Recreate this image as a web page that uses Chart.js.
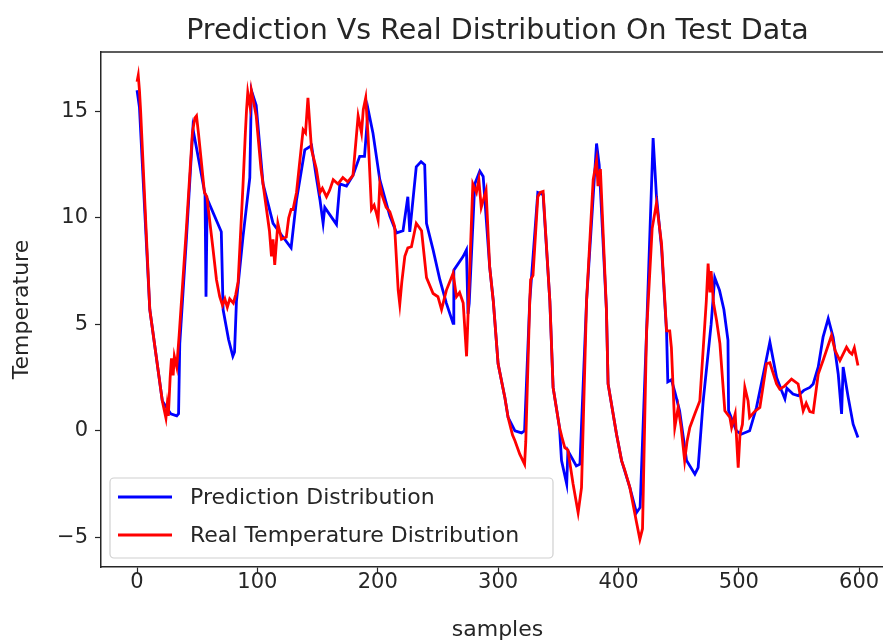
<!DOCTYPE html>
<html>
<head>
<meta charset="utf-8">
<script src="https://cdn.jsdelivr.net/npm/chart.js@4/dist/chart.umd.min.js"></script>
<style>
  html, body { margin: 0; padding: 0; background: #fff; overflow: hidden; }
  canvas { display: block; }
</style>
</head>
<body>
<canvas id="predChart" width="895" height="643"></canvas>
<script>
// test-set samples: model prediction vs measured temperature
const predSamples = [0, 2, 10.6, 21, 28, 33, 34.5, 35.5, 41, 46.4, 52, 56.5, 57.3, 58.3, 70, 71.5, 76, 79.6, 81, 82.6,
  88, 93.7, 95, 99, 104.7, 113, 120, 128, 132.5, 139.4, 145, 149, 152, 154.6, 156, 165.7, 168.5, 174, 179.4, 185,
  189, 192, 196, 201.7, 210, 215.6, 221, 225, 226.6, 232, 236, 239, 240.5, 246, 251.6, 257, 262.6, 263.2, 271, 273.7,
  275, 276, 280.6, 284.8, 287.6, 293, 296, 300, 305.6, 308.3, 314, 319.5, 322, 326.3, 333, 337.4, 343, 345.7, 351, 352.7,
  357, 358, 365, 368, 373.5, 381.8, 384, 390, 391.4, 398.4, 402.6, 409.5, 415, 418, 423.3, 428.8, 431.6, 435.8, 440, 441,
  444, 447, 450.8, 456.6, 463.5, 466.2, 470.4, 477, 480, 484, 487.6, 491, 491.5, 498, 502, 509, 514.7, 521.6,
  525.8, 531.4, 535.5, 538.3, 540, 545, 549.3, 554, 559, 561.8, 566, 570, 574.3, 578.4, 582.6, 585.4, 586.7, 590.9, 595, 599];
const predTemps = [16.0, 15.2, 5.7, 1.4, 0.8, 0.7, 0.8, 4.1, 9.0, 14.2, 12.5, 11.1, 6.3, 10.9, 9.35, 5.7, 4.3, 3.5, 3.7, 6.1,
  9.1, 11.9, 16.0, 15.3, 11.6, 9.75, 9.2, 8.6, 10.85, 13.2, 13.4, 11.9, 10.85, 9.75, 10.5, 9.7, 11.6, 11.5, 12.0, 12.9,
  12.9, 15.1, 14.0, 11.8, 10.1, 9.3, 9.4, 11.0, 9.35, 12.4, 12.65, 12.5, 9.75, 8.5, 7.1, 6.0, 5.05, 7.55, 8.2, 8.5,
  5.5, 6.0, 11.6, 12.2, 11.95, 7.7, 6.1, 3.15, 1.57, 0.63, 0.0, -0.1, 0.0, 6.1, 11.2, 11.1, 6.1, 2.04, 0.16, -1.4,
  -2.5, -0.94, -1.65, -1.57, 6.1, 13.5, 12.5, 5.7, 2.2, -0.16, -1.4, -2.67, -3.85, -3.6, 4.56, 13.76, 11.0, 8.6, 4.6, 2.3,
  2.4, 1.8, 0.94, -1.4, -2.04, -1.73, 1.4, 5.0, 7.2, 6.6, 5.7, 4.25, 0.94, 0.0, -0.16, 0.0, 1.1, 3.0,
  4.17, 2.5, 1.89, 1.5, 2.0, 1.73, 1.65, 1.9, 2.04, 2.2, 3.0, 4.4, 5.27, 4.4, 2.67, 0.79, 3.0, 1.57, 0.31, -0.31];

const realSamples = [0, 1, 2, 3, 10.6, 21, 24, 25, 26, 27.5, 28.6, 30, 31, 33, 35, 41, 46, 48, 49.4, 51,
  56, 58, 63, 66, 68.7, 71, 73, 75, 77, 80, 82, 84, 88, 90, 91, 92, 94, 95, 99, 103,
  110, 111.7, 113, 114.4, 117, 120, 124, 126, 128, 129.6, 132.5, 138, 140, 142, 145, 149, 152, 154, 157.4, 160,
  163, 167, 171, 175, 179.4, 183.7, 186.5, 188, 190, 192, 194.8, 197, 199, 200.3, 201.7, 204, 207, 210, 214, 217,
  218.3, 220, 222.5, 225, 228, 232, 236.4, 240.5, 246, 250, 253, 257, 262.6, 265.4, 268, 271, 273.8, 279, 282, 284,
  286, 290, 293, 296, 300, 305.6, 308.3, 312, 314, 318, 322, 323, 326.3, 327, 329, 333, 335, 337.4, 343, 345.7,
  351, 353, 355.4, 358, 362.3, 366.5, 369.3, 373.5, 379, 381.8, 383, 385, 390, 391.4, 398.4, 402.6, 405, 409.5, 415, 417.8,
  420, 423.3, 428, 431.6, 435.8, 440, 442.6, 444, 446.8, 449.6, 452, 455, 457, 459.3, 463.5, 467.6, 473, 474.5, 476, 477,
  479, 481.5, 484.3, 488.4, 492.6, 494, 497, 499.5, 501, 503, 505, 507.7, 509, 513, 517.5, 523, 525.8, 531.4, 534, 538,
  543.8, 549.3, 553.5, 556, 559, 561.8, 566, 570, 577, 580, 584, 589.5, 592, 594, 596, 599];
const realTemps = [16.4, 16.7, 16.0, 15.0, 5.7, 1.4, 0.6, 1.2, 0.7, 2.5, 3.4, 2.6, 3.5, 3.0, 4.5, 9.5, 14.0, 14.7, 14.8, 14.0,
  11.2, 11.0, 8.6, 7.1, 6.3, 5.9, 6.2, 5.8, 6.2, 6.0, 6.4, 7.0, 11.5, 14.0, 15.1, 15.9, 15.2, 16.0, 14.8, 12.3,
  9.4, 8.2, 9.0, 7.8, 9.75, 9.0, 9.1, 10.0, 10.4, 10.4, 11.2, 14.15, 14.0, 15.65, 13.2, 12.3, 11.2, 11.4, 11.0, 11.3,
  11.8, 11.6, 11.9, 11.7, 12.0, 14.8, 14.0, 15.1, 15.65, 13.8, 10.4, 10.6, 10.2, 9.9, 11.6, 11.0, 10.5, 10.3, 9.6, 6.6,
  5.95, 7.0, 8.2, 8.6, 8.65, 9.75, 9.4, 7.2, 6.45, 6.3, 5.7, 6.6, 7.4, 6.3, 6.5, 6.0, 3.5, 11.6, 11.2, 11.8,
  10.5, 11.3, 7.7, 6.1, 3.15, 1.57, 0.63, -0.2, -0.47, -1.1, -1.57, -0.5, 6.1, 7.1, 7.3, 11.0, 11.2, 11.25, 6.1, 2.04,
  0.16, -0.3, -0.79, -0.9, -2.5, -3.85, -2.67, 6.1, 11.8, 12.7, 11.5, 12.3, 5.7, 2.2, -0.16, -1.4, -1.8, -2.67, -4.3, -5.1,
  -4.6, 4.56, 9.5, 10.7, 8.8, 4.7, 4.7, 3.9, 0.16, 1.1, 0.2, -1.4, -0.5, 0.16, 0.8, 1.4, 6.1, 7.86, 6.5, 7.5,
  6.0, 5.2, 4.1, 0.94, 0.63, 0.16, 0.8, -1.73, -0.16, 0.3, 2.04, 1.4, 0.63, 0.9, 1.1, 3.15, 3.2, 2.2, 1.96, 2.1,
  2.43, 2.2, 0.94, 1.3, 0.9, 0.86, 2.67, 3.3, 4.48, 3.77, 3.3, 3.93, 3.7, 3.6, 3.9, 3.07];

const xTicks = [0, 100, 200, 300, 400, 500, 600];
const yTicks = [-5, 0, 5, 10, 15];

const FONT = "'DejaVu Sans', sans-serif";
const INK = '#262626';

function toPoints(xs, ys) {
  return xs.map((x, i) => ({ x: x, y: ys[i] }));
}

// negative numbers get a real minus sign
function fmtTick(v) {
  return v < 0 ? '\u2212' + Math.abs(v) : String(v);
}

// legend box drawn inside the plot, lower left
const innerLegend = {
  id: 'innerLegend',
  afterDraw(chart) {
    const ctx = chart.ctx;
    const area = chart.chartArea;
    const x = area.left + 9, y = area.bottom - 89, w = 443, h = 80;
    ctx.save();
    ctx.beginPath();
    ctx.roundRect(x, y, w, h, 4);
    ctx.fillStyle = 'rgba(255,255,255,0.8)';
    ctx.fill();
    ctx.strokeStyle = '#d0d0d0';
    ctx.lineWidth = 1.2;
    ctx.stroke();

    const order = [1, 0]; // prediction first, real second
    ctx.font = '22px ' + FONT;
    ctx.textBaseline = 'middle';
    order.forEach((di, row) => {
      const ds = chart.data.datasets[di];
      const ly = y + 19 + row * 38;
      ctx.beginPath();
      ctx.moveTo(x + 8, ly);
      ctx.lineTo(x + 62, ly);
      ctx.strokeStyle = ds.borderColor;
      ctx.lineWidth = 2.8;
      ctx.stroke();
      ctx.fillStyle = INK;
      ctx.fillText(ds.label, x + 80, ly + 1);
    });
    ctx.restore();
  }
};

new Chart(document.getElementById('predChart').getContext('2d'), {
  type: 'line',
  data: {
    datasets: [
      {
        label: 'Real Temperature Distribution',
        data: toPoints(realSamples, realTemps),
        borderColor: '#ff0000',
        borderWidth: 2.8,
        pointRadius: 0,
        tension: 0,
        order: 1
      },
      {
        label: 'Prediction Distribution',
        data: toPoints(predSamples, predTemps),
        borderColor: '#0000ff',
        borderWidth: 2.8,
        pointRadius: 0,
        tension: 0,
        order: 2
      }
    ]
  },
  options: {
    responsive: false,
    animation: false,
    layout: { padding: { left: 0, right: 1, top: 0, bottom: 0 } },
    plugins: {
      legend: { display: false },
      tooltip: { enabled: false },
      title: {
        display: true,
        text: 'Prediction Vs Real Distribution On Test Data',
        fullSize: false,
        color: INK,
        font: { family: FONT, size: 28.5, weight: 'normal' },
        padding: { top: 14, bottom: 3.8 }
      }
    },
    scales: {
      x: {
        type: 'linear',
        min: -29.95,
        max: 628.95,
        afterBuildTicks: s => { s.ticks = xTicks.map(v => ({ value: v })); },
        afterFit: s => { s.height = 76; },
        grid: { drawOnChartArea: false, drawTicks: true, tickLength: 6, tickColor: INK, tickWidth: 1.2 },
        border: { display: true, color: INK, width: 1.5 },
        ticks: { color: INK, padding: -3, font: { family: FONT, size: 21 }, maxRotation: 0, callback: fmtTick },
        title: { display: true, text: 'samples', color: INK, font: { family: FONT, size: 22 }, padding: { top: 0, bottom: 0 } }
      },
      y: {
        min: -6.4,
        max: 17.8,
        afterBuildTicks: s => { s.ticks = yTicks.map(v => ({ value: v })); },
        afterFit: s => { s.width = 101; },
        grid: { drawOnChartArea: false, drawTicks: true, tickLength: 6, tickColor: INK, tickWidth: 1.2 },
        border: { display: true, color: INK, width: 1.5 },
        ticks: { color: INK, padding: 7, font: { family: FONT, size: 21 }, callback: fmtTick },
        title: { display: true, text: 'Temperature', color: INK, font: { family: FONT, size: 22 }, padding: { top: 9, bottom: 0 } }
      }
    }
  },
  plugins: [innerLegend, {
    // top spine of the axes frame
    id: 'topSpine',
    afterDraw(chart) {
      const { ctx, chartArea: a } = chart;
      ctx.save();
      ctx.strokeStyle = INK;
      ctx.lineWidth = 1.5;
      ctx.beginPath();
      ctx.moveTo(a.left, a.top);
      ctx.lineTo(a.right, a.top);
      ctx.stroke();
      ctx.restore();
    }
  }]
});
</script>
</body>
</html>
